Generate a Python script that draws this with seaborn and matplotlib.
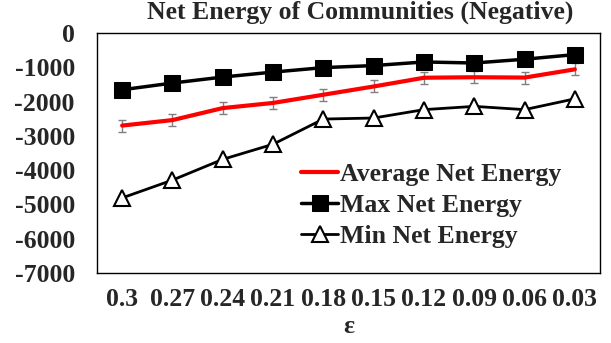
import matplotlib
matplotlib.use("Agg")
import matplotlib.pyplot as plt
import seaborn as sns
import pandas as pd
import numpy as np

# Threshold values (x axis) and net-energy results per community set
epsilon = ["0.3", "0.27", "0.24", "0.21", "0.18", "0.15", "0.12", "0.09", "0.06", "0.03"]
avg_energy = [-2700, -2540, -2190, -2040, -1800, -1560, -1305, -1290, -1300, -1060]
avg_err = [175, 175, 175, 175, 175, 175, 175, 175, 175, 175]
max_energy = [-1655, -1460, -1285, -1140, -1010, -950, -845, -875, -765, -630]
min_energy = [-4810, -4290, -3685, -3245, -2510, -2480, -2235, -2140, -2235, -1920]

y_ticks = [0, -1000, -2000, -3000, -4000, -5000, -6000, -7000]

sns.set_theme(style="white")
plt.rcParams["font.family"] = ["Liberation Serif", "DejaVu Serif"]
plt.rcParams["font.weight"] = "bold"

df = pd.DataFrame({
    "eps": epsilon,
    "avg": avg_energy,
    "max": max_energy,
    "min": min_energy,
})
df["pos"] = np.arange(len(epsilon))

fig = plt.figure(figsize=(6.11, 3.43), dpi=100)
ax = fig.add_axes([97 / 611, 70 / 343, 503 / 611, 240 / 343])

sns.lineplot(data=df, x="pos", y="avg", ax=ax, color="#ff0000", linewidth=3,
             label="Average Net Energy", zorder=3)
ax.errorbar(df["pos"], df["avg"], yerr=avg_err, fmt="none", ecolor="#7f7f7f",
            elinewidth=1, capsize=3, capthick=1, zorder=2)
sns.lineplot(data=df, x="pos", y="max", ax=ax, color="black", linewidth=2.5,
             marker="s", markersize=11, markerfacecolor="black",
             markeredgecolor="black", label="Max Net Energy", zorder=4)
sns.lineplot(data=df, x="pos", y="min", ax=ax, color="black", linewidth=2,
             marker="^", markersize=12, markerfacecolor="white",
             markeredgecolor="black", markeredgewidth=1.5,
             label="Min Net Energy", zorder=4)

ax.set_xlim(-0.5, len(epsilon) - 0.5)
ax.set_ylim(-7000, 0)
ax.set_xticks(df["pos"])
ax.set_xticklabels(epsilon, fontsize=18.5, fontweight="bold")
ax.set_yticks(y_ticks)
ax.set_yticklabels([str(v) for v in y_ticks], fontsize=18.5, fontweight="bold")
ax.tick_params(axis="both", length=0)
ax.tick_params(axis="x", pad=11)
ax.tick_params(axis="y", pad=16)
ax.set_xlabel("ε", fontsize=18.5, fontweight="bold", labelpad=3)
ax.set_ylabel("")

for s in ax.spines.values():
    s.set_visible(True)
    s.set_color("black")
    s.set_linewidth(1)

fig.text(360 / 611, 1 - 12 / 343, "Net Energy of Communities (Negative)",
         ha="center", va="center", fontsize=18.5, fontweight="bold")

leg = ax.legend(loc="upper left", bbox_to_anchor=(301 / 611, 1 - 163 / 343),
                bbox_transform=fig.transFigure, frameon=False,
                fontsize=18.5, handlelength=1.45, handletextpad=0.08,
                labelspacing=0.32, borderaxespad=0, borderpad=0)
for t in leg.get_texts():
    t.set_fontweight("bold")

fig.savefig("out.png", dpi=100)
